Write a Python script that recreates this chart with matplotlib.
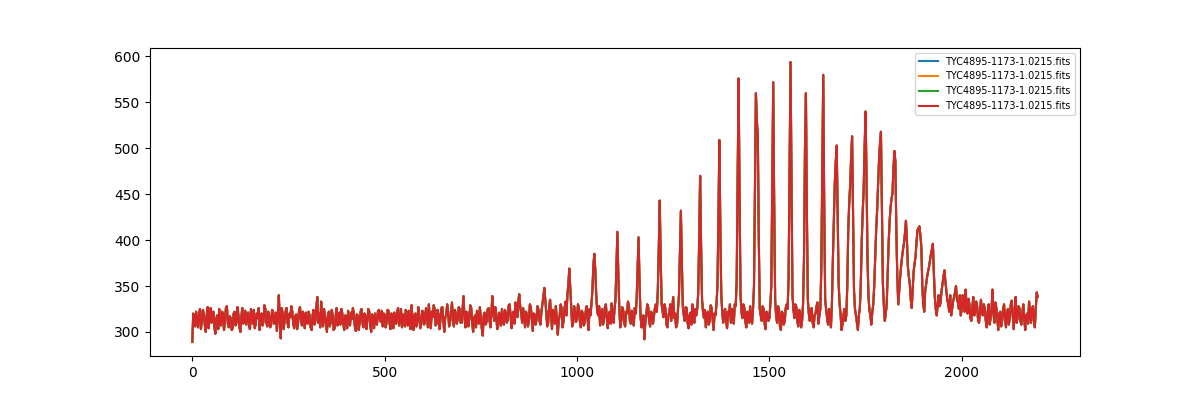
import numpy as np
import matplotlib
matplotlib.use("Agg")
import matplotlib.pyplot as plt

step = 2.5
labels = ["TYC4895-1173-1.0215.fits"] * 4

# flux read at x = 0, 5, 10, ...
flux_a = [
    289, 318, 322, 305, 325, 312, 320, 300, 327, 316, 310, 322, 298, 318, 325, 307, 320, 313, 328, 305,
    315, 304, 322, 310, 318, 300, 326, 312, 308, 321, 303, 317, 324, 309, 315, 302, 320, 311, 325, 306,
    318, 308, 322, 313, 301, 340, 293, 320, 312, 326, 305, 316, 322, 304, 319, 310, 327, 307, 315, 321,
    309, 318, 302, 324, 312, 338, 320, 333, 306, 317, 300, 322, 311, 318, 304, 326, 313, 308, 320, 302,
    316, 323, 307, 314, 320, 301, 318, 310, 325, 305, 317, 312, 322, 300, 315, 320, 308, 324, 311, 306,
    319, 310, 323, 303, 316, 321, 309, 326, 313, 305, 318, 324, 307, 315, 329, 302, 320, 312, 317, 308,
    322, 311, 318, 330, 304, 316, 325, 309, 319, 313, 327, 300, 318, 322, 310, 332, 306, 320, 314, 325,
    310, 339, 305, 320, 314, 326, 300, 318, 323, 309, 316, 296, 321, 311, 326, 305, 339, 312, 320, 306,
    318, 325, 308, 321, 313, 330, 304, 322, 332, 316, 341, 320, 326, 305, 318, 312, 327, 301, 319, 314,
    324, 308, 330, 348, 322, 310, 335, 303, 320, 328, 297, 318, 326, 312, 333, 340, 369, 325, 310, 322,
    315, 326, 305, 320, 310, 328, 302, 318, 345, 385, 340, 318, 307, 325, 312, 330, 304, 322, 331, 310,
    335, 409, 325, 312, 324, 306, 320, 328, 309, 318, 326, 335, 403, 318, 310, 292, 318, 327, 306, 320,
    318, 330, 345, 443, 330, 316, 325, 305, 322, 312, 338, 320, 308, 340, 432, 328, 312, 326, 304, 321,
    330, 310, 318, 342, 470, 335, 315, 305, 322, 312, 326, 302, 318, 350, 509, 340, 310, 325, 304, 318,
    310, 322, 330, 355, 576, 340, 315, 326, 305, 318, 328, 309, 350, 560, 512, 325, 312, 325, 303, 320,
    315, 350, 572, 335, 310, 325, 302, 320, 312, 330, 360, 594, 340, 315, 327, 306, 320, 312, 380, 560,
    335, 312, 326, 305, 320, 332, 318, 370, 580, 335, 315, 325, 305, 378, 462, 503, 353, 320, 308, 325,
    318, 411, 460, 513, 345, 318, 302, 325, 398, 454, 540, 380, 324, 308, 330, 380, 432, 487, 518, 353,
    312, 330, 397, 436, 451, 497, 410, 330, 360, 382, 397, 421, 371, 353, 326, 366, 382, 411, 415, 393,
    330, 345, 360, 371, 385, 396, 338, 318, 340, 332, 352, 367, 345, 330, 340, 325, 338, 350, 332, 340,
    325, 335, 346, 320, 330, 312, 338, 322, 328, 310, 335, 318, 325, 305, 330, 315, 346, 310, 326, 302,
    322, 312, 330, 305, 325, 316, 334, 303, 338, 315, 326, 308, 330, 302, 320, 333, 310, 328, 305, 343,
]

# flux read at x = 2.5, 7.5, 12.5, ...
flux_b = [
    320, 306, 311, 319, 303, 324, 308, 318, 304, 326, 321, 305, 315, 303, 310, 322, 302, 326, 309, 317,
    302, 320, 307, 327, 305, 316, 309, 323, 319, 306, 325, 309, 304, 320, 326, 318, 307, 329, 310, 322,
    305, 324, 309, 321, 318, 312, 326, 303, 322, 310, 320, 328, 308, 317, 303, 323, 313, 322, 304, 310,
    322, 305, 317, 308, 327, 310, 305, 314, 325, 308, 318, 306, 324, 302, 316, 307, 321, 325, 309, 318,
    304, 310, 321, 326, 306, 319, 302, 322, 309, 320, 303, 325, 308, 319, 304, 309, 322, 313, 323, 320,
    305, 324, 311, 320, 304, 310, 322, 307, 325, 319, 306, 311, 323, 303, 314, 318, 306, 327, 304, 323,
    308, 326, 305, 314, 322, 329, 307, 324, 303, 326, 312, 316, 330, 306, 321, 315, 324, 309, 327, 310,
    325, 316, 322, 306, 329, 310, 315, 305, 312, 327, 304, 318, 308, 324, 313, 322, 320, 327, 303, 321,
    307, 312, 324, 310, 329, 316, 320, 309, 325, 334, 327, 310, 315, 322, 306, 330, 314, 320, 308, 328,
    312, 322, 338, 335, 306, 327, 318, 324, 309, 314, 312, 330, 305, 325, 318, 352, 348, 306, 328, 311,
    330, 311, 323, 307, 322, 314, 325, 330, 372, 368, 322, 328, 320, 308, 327, 316, 318, 309, 319, 325,
    370, 360, 305, 327, 310, 322, 333, 312, 323, 307, 320, 370, 355, 305, 318, 310, 330, 312, 322, 309,
    326, 322, 390, 380, 322, 330, 308, 318, 330, 325, 315, 305, 325, 385, 375, 318, 327, 310, 318, 308,
    316, 325, 325, 400, 395, 322, 324, 318, 308, 329, 314, 320, 330, 420, 415, 322, 321, 312, 322, 330,
    325, 309, 328, 460, 450, 322, 330, 312, 322, 310, 316, 325, 450, 530, 400, 318, 328, 309, 322, 312,
    330, 460, 440, 318, 328, 306, 322, 308, 326, 325, 480, 460, 325, 330, 312, 324, 305, 330, 500, 430,
    320, 324, 310, 318, 328, 309, 325, 470, 440, 325, 308, 316, 330, 420, 485, 430, 330, 302, 318, 312,
    350, 440, 490, 430, 325, 310, 318, 350, 430, 500, 470, 340, 318, 322, 350, 410, 460, 505, 440, 330,
    320, 365, 420, 445, 478, 486, 360, 345, 372, 390, 408, 400, 360, 335, 345, 375, 398, 413, 405, 350,
    322, 352, 366, 378, 390, 365, 325, 330, 328, 345, 360, 355, 335, 322, 318, 333, 343, 336, 325, 318,
    340, 322, 330, 336, 315, 326, 318, 333, 312, 324, 320, 330, 312, 322, 308, 325, 320, 332, 314, 320,
    306, 325, 314, 320, 308, 330, 318, 322, 310, 328, 312, 321, 314, 318, 309, 320, 325, 312, 326, 338,
]

flux = np.column_stack([flux_a, flux_b]).ravel()
x = np.arange(len(flux)) * step
series = [flux, flux, flux, flux]

fig, ax = plt.subplots(figsize=(12, 4), dpi=100)
for s, lab in zip(series, labels):
    ax.plot(x, s, label=lab)
ax.legend(loc="upper right", fontsize="x-small")
fig.savefig("out.png")
